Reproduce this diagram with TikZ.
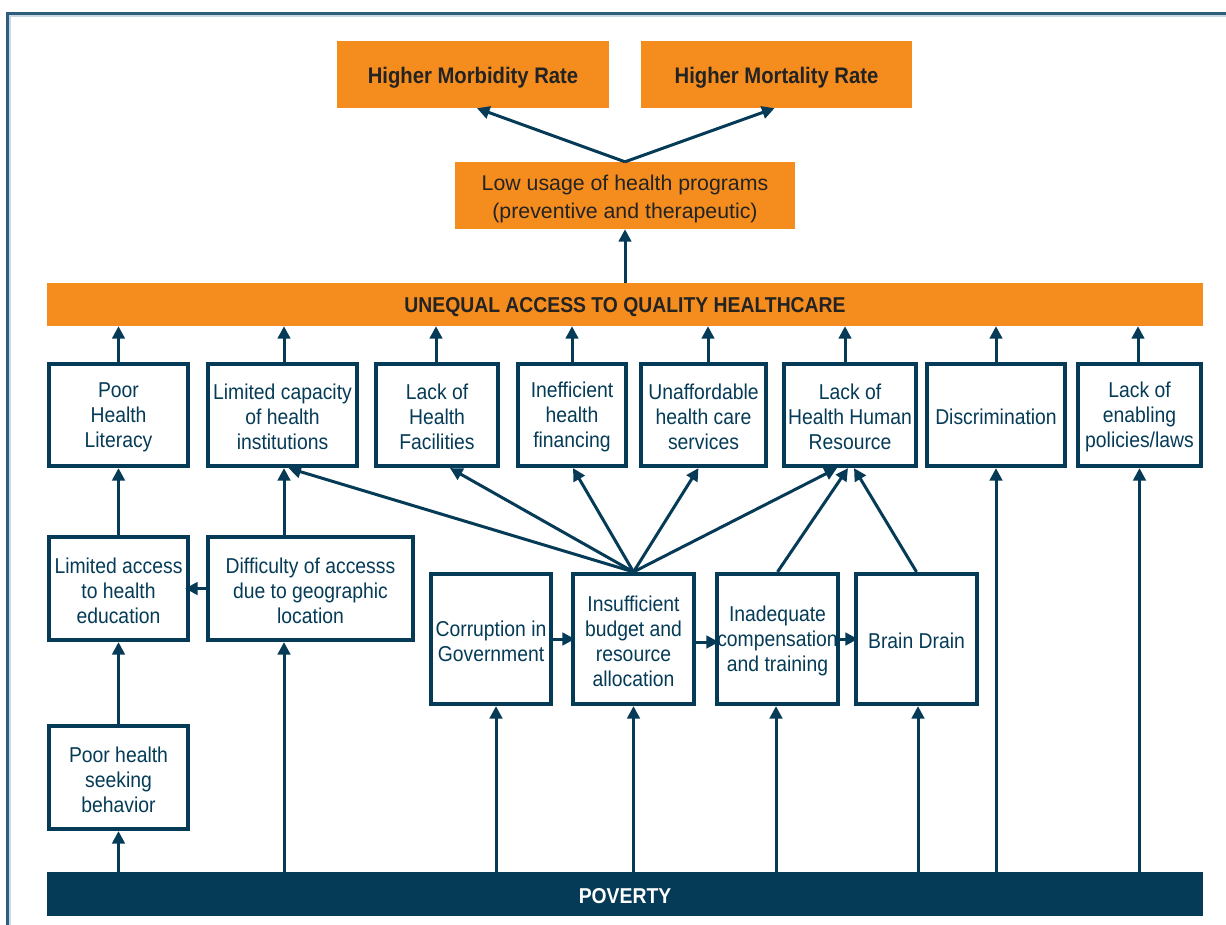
\documentclass[tikz,border=0pt]{standalone}
\usepackage{fontspec}
\setmainfont{Liberation Sans}[FakeStretch=0.9]
\newfontfamily\widef{Liberation Sans}
\usetikzlibrary{arrows.meta}
\definecolor{navy}{HTML}{053B57}
\definecolor{orng}{HTML}{F58C1E}
\definecolor{framec}{HTML}{2E5E7E}
\definecolor{framel}{HTML}{C8D8E4}
\definecolor{darktxt}{HTML}{232323}
\newcommand\mkbox[6]{%
  \node[box, minimum width=#4, minimum height=#5] (#1) at (#2,#3) {};
  \node[boxtxt] (#1t) at ([yshift=-2.3pt]#1.center) {#6};}
\begin{document}
\begin{tikzpicture}[x=1pt,y=-1pt,
  box/.style={draw=navy, line width=4.2pt, fill=white, inner sep=0pt},
  boxtxt/.style={text=navy, align=center, inner sep=0pt, font=\fontsize{21.5}{25}\selectfont},
  obox/.style={fill=orng, inner sep=0pt},
  otxt/.style={text=darktxt, align=center, inner sep=0pt},
  titlefont/.style={font=\bfseries\fontsize{22.5}{25}\selectfont},
  conn/.style={draw=navy, line width=3pt, -{Triangle[length=12.5pt,width=12.5pt]}},
]
\useasboundingbox (0,0) rectangle (1226,924);
% frame
\draw[framel, line width=1.2pt] (10,940) -- (10,16) -- (1240,16);
\draw[framec, line width=3pt] (7,940) -- (7,13) -- (1240,13);

% top orange
\node[obox, minimum width=272, minimum height=67] (mb) at (473,74.5) {};
\node[otxt, titlefont] (mbt) at ([yshift=-3.5pt]mb.center) {Higher Morbidity Rate};
\node[obox, minimum width=271, minimum height=67] (mt) at (776.5,74.5) {};
\node[otxt, titlefont] (mtt) at ([yshift=-3.5pt]mt.center) {Higher Mortality Rate};
\node[obox, minimum width=340, minimum height=67] (lu) at (625,195.5) {};
\node[otxt, font=\widef\fontsize{21.3}{28}\selectfont] (lut) at ([yshift=-3pt]lu.center) {Low usage of health programs\\(preventive and therapeutic)};
\node[obox, minimum width=1156, minimum height=43] (ua) at (625,304.5) {};
\node[otxt, font=\bfseries\fontsize{21.5}{25}\selectfont] (uat) at ([yshift=-3pt]ua.center) {UNEQUAL ACCESS TO QUALITY HEALTHCARE};

\draw[conn] (lu.north) -- ([xshift=4pt]mb.south);
\draw[conn] (lu.north) -- ([xshift=-2pt]mt.south);
\draw[conn] (ua.north -| lu.south) -- (lu.south);

% row 1
\mkbox{phl}{118.5}{415}{139}{102}{Poor\\Health\\Literacy}
\mkbox{lci}{282.5}{415}{149}{102}{Limited capacity\\of health\\institutions}
\mkbox{lhf}{437}{415}{122}{102}{Lack of\\Health\\Facilities}
\mkbox{ihf}{572}{415}{108}{102}{Inefficient\\health\\financing}
\mkbox{uhc}{703.5}{415}{125}{102}{Unaffordable\\health care\\services}
\mkbox{hhr}{850}{415}{132}{102}{Lack of\\Health Human\\Resource}
\mkbox{dis}{996}{415}{138}{102}{Discrimination}
\mkbox{lep}{1139.5}{415}{123}{102}{Lack of\\enabling\\policies/laws}

\foreach \n/\dx in {phl/0, lci/1.5, lhf/-1, ihf/0, uhc/4.5, hhr/-5, dis/0, lep/-1.5}{
  \draw[conn] ([xshift=\dx pt]\n.north) -- ([xshift=\dx pt]\n.north |- ua.south);
}

% row 2
\mkbox{lah}{118.5}{588.5}{139}{103}{Limited access\\to health\\education}
\mkbox{doa}{310.5}{588.5}{205}{103}{Difficulty of accesss\\due to geographic\\location}

% row 3
\mkbox{cig}{491}{639}{120}{130}{Corruption in\\Government}
\mkbox{isb}{633.5}{639}{121}{130}{Insufficient\\budget and\\resource\\allocation}
\mkbox{icr}{777.5}{639}{121}{130}{Inadequate\\compensation\\and training}
\mkbox{bdr}{916.5}{639}{121}{130}{Brain Drain}

% row 4
\mkbox{phs}{118.5}{777.5}{139}{103}{Poor health\\seeking\\behavior}

% poverty
\node[fill=navy, inner sep=0pt, minimum width=1156, minimum height=44] (pov) at (625,894) {};
\node[text=white, inner sep=0pt, font=\bfseries\fontsize{21.5}{25}\selectfont] (povt) at ([yshift=-2pt]pov.center) {POVERTY};

% vertical connectors
\draw[conn] (lah.north) -- (phl.south);
\draw[conn] ([xshift=1.5pt]doa.north -| lci.south) -- ([xshift=1.5pt]lci.south);
\draw[conn] (phs.north) -- (lah.south);
\draw[conn] (doa.west) -- ([xshift=-5pt]lah.east);

% horizontal row 3
\draw[conn] (cig.east) -- ([xshift=4pt]isb.west);
\draw[conn] ([yshift=-3pt]isb.east) -- ([xshift=4pt,yshift=-3pt]icr.west);
\draw[conn] (icr.east) -- ([xshift=4pt]bdr.west);

% fan from insufficient budget
\draw[conn] (isb.north) -- ([xshift=6pt]lci.south);
\draw[conn] (isb.north) -- ([xshift=13pt]lhf.south);
\draw[conn] (isb.north) -- ([xshift=1pt]ihf.south);
\draw[conn] (isb.north) -- ([xshift=-5pt]uhc.south);
\draw[conn] (isb.north) -- ([xshift=-13pt]hhr.south);
\draw[conn] (icr.north) -- ([xshift=-2pt]hhr.south);
\draw[conn] (bdr.north) -- ([xshift=4pt]hhr.south);

% from poverty
\draw[conn] (pov.north -| phs.south) -- (phs.south);
\draw[conn] ([xshift=-26.5pt]pov.north -| doa.south) -- ([xshift=-26.5pt]doa.south);
\draw[conn] ([xshift=5pt]pov.north -| cig.south) -- ([xshift=5pt]cig.south);
\draw[conn] (pov.north -| isb.south) -- (isb.south);
\draw[conn] ([xshift=-1.5pt]pov.north -| icr.south) -- ([xshift=-1.5pt]icr.south);
\draw[conn] ([xshift=1.5pt]pov.north -| bdr.south) -- ([xshift=1.5pt]bdr.south);
\draw[conn] (pov.north -| dis.south) -- (dis.south);
\draw[conn] (pov.north -| lep.south) -- (lep.south);
\end{tikzpicture}
\end{document}
